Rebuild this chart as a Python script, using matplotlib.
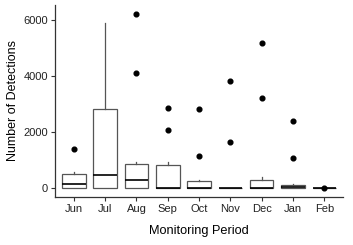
import matplotlib
matplotlib.use("Agg")
import matplotlib.pyplot as plt

plt.rcParams['font.family'] = ['Liberation Sans', 'DejaVu Sans']

months = ["Jun", "Jul", "Aug", "Sep", "Oct", "Nov", "Dec", "Jan", "Feb"]
q1 = [0, 0, 0, 0, 0, 0, 0, 0, 0]
medians = [140, 460, 310, 25, 10, 0, 10, 60, 0]
q3 = [500, 2840, 875, 830, 250, 20, 310, 120, 10]
whislo = [0, 0, 0, 0, 0, 0, 0, 0, 0]
whishi = [580, 5900, 920, 920, 280, 20, 390, 140, 10]
outliers = [[1385], [], [6220, 4120], [2860, 2060], [2840, 1150],
            [3830, 1660], [5160, 3200], [2380, 1065], [0]]

stats = []
for i, m in enumerate(months):
    stats.append(dict(label=m, q1=q1[i], med=medians[i], q3=q3[i],
                      whislo=whislo[i], whishi=whishi[i], fliers=outliers[i]))

fig = plt.figure(figsize=(3.53, 2.45), dpi=100)
ax = fig.add_axes([0.156, 0.196, 0.816, 0.784])

ax.bxp(stats, positions=range(1, len(months) + 1), widths=0.75,
       showcaps=False, patch_artist=True,
       boxprops=dict(facecolor='white', edgecolor='#555555', linewidth=0.9),
       medianprops=dict(color='black', linewidth=1.2),
       whiskerprops=dict(color='#555555', linewidth=0.9),
       flierprops=dict(marker='o', markerfacecolor='black', markeredgecolor='black',
                       markersize=3.4, linestyle='none'))

ax.set_xlim(0.4, 9.6)
ax.set_ylim(-311, 6531)
ax.set_yticks([0, 2000, 4000, 6000])
ax.set_xticks(range(1, len(months) + 1))
ax.set_xticklabels(months)
for s in ['top', 'right']:
    ax.spines[s].set_visible(False)
for s in ['left', 'bottom']:
    ax.spines[s].set_linewidth(0.9)
    ax.spines[s].set_color('#333333')
ax.tick_params(axis='both', length=3, width=0.8, color='#333333',
               labelsize=8, labelcolor='#222222', pad=2)
ax.set_xlabel("Monitoring Period", fontsize=9.2, labelpad=8)
ax.set_ylabel("Number of Detections", fontsize=9, labelpad=3)

fig.savefig("out.png", dpi=100)
